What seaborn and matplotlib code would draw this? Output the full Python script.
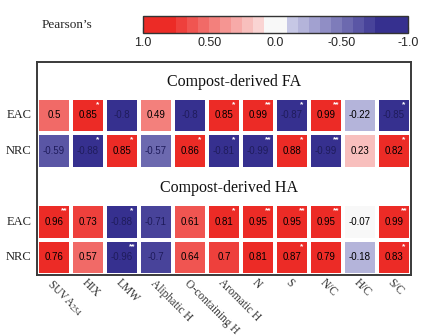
import numpy as np
import pandas as pd
import seaborn as sns
import matplotlib
matplotlib.use("Agg")
import matplotlib.pyplot as plt
from matplotlib.colors import ListedColormap, BoundaryNorm, to_rgb

# ---- data -------------------------------------------------------------
features = ["SUVA$_{254}$", "HIX", "LMW", "Aliphatic H", "O-containing H",
            "Aromatic H", "N", "S", "N/C", "H/C", "S/C"]
row_names = ["EAC", "NRC"]

fa_eac = [0.5, 0.85, -0.8, 0.49, -0.8, 0.85, 0.99, -0.87, 0.99, -0.22, -0.85]
fa_nrc = [-0.59, -0.88, 0.85, -0.57, 0.86, -0.81, -0.99, 0.88, -0.99, 0.23, 0.82]
ha_eac = [0.96, 0.73, -0.88, -0.71, 0.61, 0.81, 0.95, 0.95, 0.95, -0.07, 0.99]
ha_nrc = [0.76, 0.57, -0.96, -0.7, 0.64, 0.7, 0.81, 0.87, 0.79, -0.18, 0.83]

fa_eac_sig = ["", "*", "", "", "", "*", "**", "*", "**", "", "*"]
fa_nrc_sig = ["", "*", "*", "", "*", "*", "**", "*", "**", "", "*"]
ha_eac_sig = ["**", "", "*", "", "", "*", "**", "**", "**", "", "**"]
ha_nrc_sig = ["", "", "**", "", "", "", "", "*", "", "", "*"]

group_titles = ["Compost-derived FA", "Compost-derived HA"]

# ---- grid: a title row above each group ---------------------------------
blank = [np.nan] * len(features)
grid = pd.DataFrame([blank, fa_eac, fa_nrc, blank, ha_eac, ha_nrc],
                    columns=features)
sig_grid = [[""] * len(features), fa_eac_sig, fa_nrc_sig,
            [""] * len(features), ha_eac_sig, ha_nrc_sig]

# ---- discrete diverging palette (red = +1, blue = -1) -------------------
red_full = np.array(to_rgb("#EC2B26"))
red_light = np.array(to_rgb("#FAD4D3"))
blue_full = np.array(to_rgb("#36308F"))
blue_light = np.array(to_rgb("#C6C7E5"))
centre = np.array(to_rgb("#F8F8F8"))

blues = [blue_full] + [blue_full + (blue_light - blue_full) * k / 8 for k in range(1, 9)]
reds = [red_full + (red_light - red_full) * k / 8 for k in range(8, 0, -1)] + [red_full]
colors = blues + [centre] + reds
step = 1 / 12
edges = [-1.0] + [-(9 - k) * step for k in range(9)] + [(k + 1) * step for k in range(9)] + [1.0]
cmap = ListedColormap(colors)
norm = BoundaryNorm(edges, cmap.N)

# ---- figure -------------------------------------------------------------
sns.set_theme(style="white")
plt.rcParams["font.family"] = ["Liberation Sans", "DejaVu Sans"]
plt.rcParams["mathtext.fontset"] = "stix"

fig = plt.figure(figsize=(4.25, 3.36), dpi=100)
ax = fig.add_axes([37 / 425, 1 - 275 / 336, 374 / 425, 213 / 336])
cax = fig.add_axes([143 / 425, 1 - 33 / 336, 265 / 425, 17 / 336])

sns.heatmap(grid, ax=ax, cmap=cmap, norm=norm, annot=True, fmt="g",
            annot_kws={"fontsize": 7, "family": "Liberation Sans"},
            linewidths=2.8, linecolor="white", cbar_ax=cax,
            cbar_kws={"orientation": "horizontal", "spacing": "proportional"})

# value label colours: dark navy on the deep blue cells
for t in ax.texts:
    v = float(t.get_text())
    t.set_color("#1f1c5c" if v <= -0.5 else "black")

# significance marks
for i, row in enumerate(sig_grid):
    for j, s in enumerate(row):
        if s:
            ax.text(j + 0.79, i + 0.2, s, color="white", fontsize=6,
                    ha="center", va="center", fontweight="bold")

# group titles in the blank rows
for r, xc, title in zip([0, 3], [5.8, 5.65], group_titles):
    ax.text(xc, r + 0.55, title, ha="center", va="center",
            fontsize=11.5, family="Liberation Serif", color="#111111")

# row labels
ax.set_yticks([1.5, 2.5, 4.5, 5.5])
ax.set_yticklabels(row_names * 2, rotation=0, fontsize=9,
                   family="Liberation Serif", color="#222222")

# column labels
ax.set_xticks(np.arange(len(features)) + 0.5)
ax.set_xticklabels(features, rotation=-45, ha="left", va="top",
                   rotation_mode="anchor", fontsize=8.3,
                   family="Liberation Serif", color="#333333")
ax.tick_params(axis="both", length=0)
ax.tick_params(axis="x", pad=1.5)
ax.tick_params(axis="y", pad=4)
ax.set_xlabel("")
ax.set_ylabel("")

# frame around the whole panel
for sp in ax.spines.values():
    sp.set_visible(True)
    sp.set_color("#3a3a3a")
    sp.set_linewidth(1.4)

# colour bar
cbar = ax.collections[0].colorbar
cbar.set_ticks([1.0, 0.5, 0.0, -0.5, -1.0],
               labels=["1.0", "0.50", "0.0", "-0.50", "-1.0"])
cax.minorticks_off()
cax.invert_xaxis()
cax.tick_params(axis="x", which="major", direction="in", length=4, width=0.8,
                color="#333333", labelsize=9, pad=3)
cbar.outline.set_edgecolor("#333333")
cbar.outline.set_linewidth(1.0)

fig.text(42 / 425, 1 - 25 / 336, "Pearson\u2019s", ha="left", va="center",
         fontsize=9.5, family="Liberation Serif")

fig.savefig("out.png", dpi=100)
